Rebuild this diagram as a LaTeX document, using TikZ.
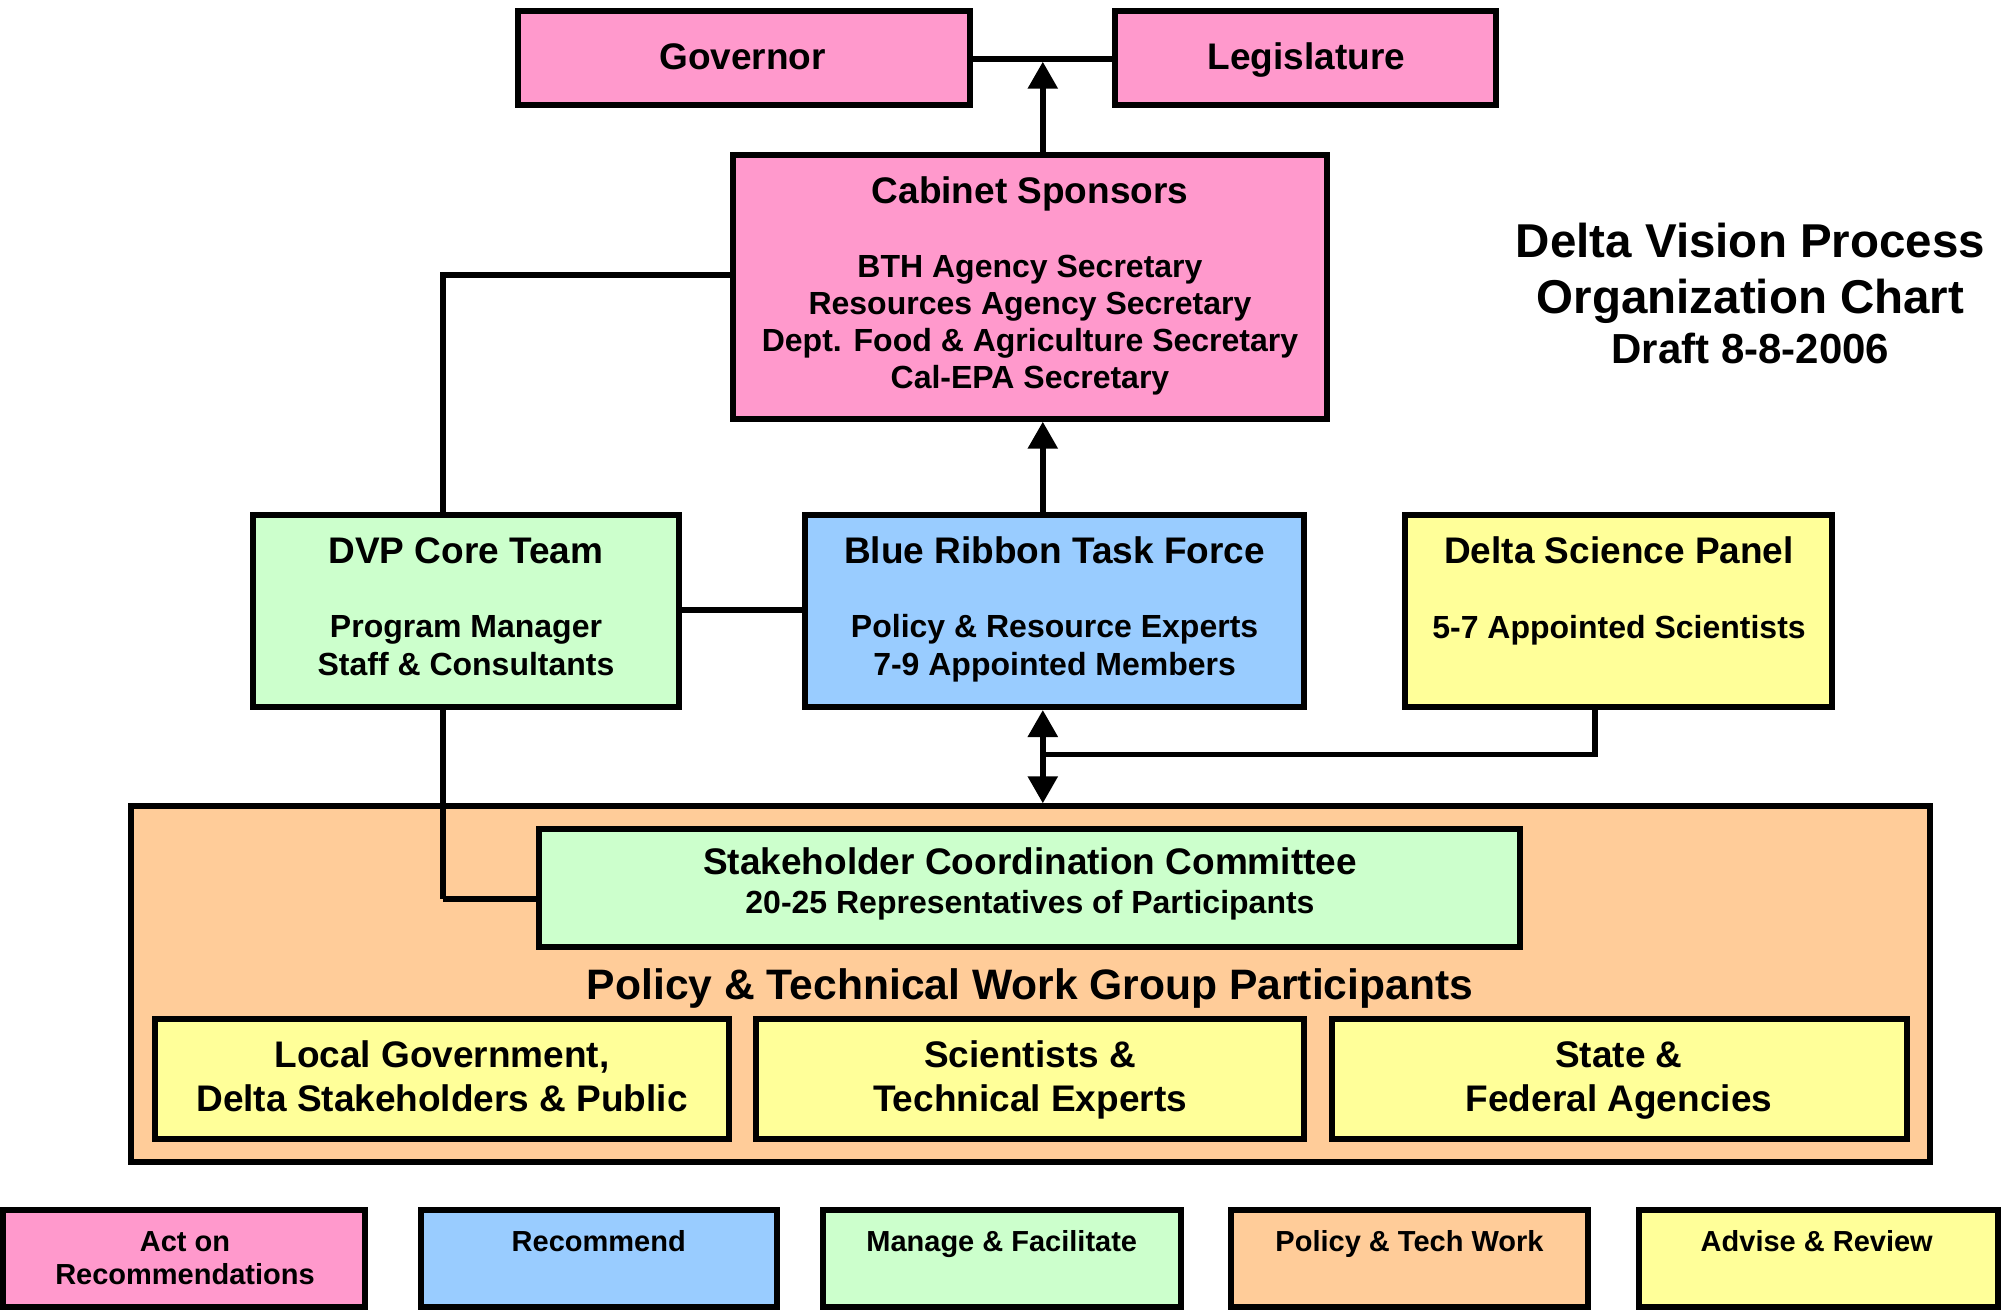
\documentclass[tikz,border=0pt]{standalone}
\usepackage{fontspec}
\setmainfont{Liberation Sans}
\usetikzlibrary{arrows.meta}
\definecolor{cpink}{HTML}{FF99CC}
\definecolor{cblue}{HTML}{99CCFF}
\definecolor{cgreen}{HTML}{CCFFCC}
\definecolor{corange}{HTML}{FFCC99}
\definecolor{cyellow}{HTML}{FFFF99}
\begin{document}
\begin{tikzpicture}[x=1pt,y=-1pt,
  box/.style={draw=black, line width=6pt, rectangle, inner sep=0pt},
  conn/.style={line width=5.7pt},
  tip/.tip={Triangle[length=27pt,width=29pt]},
  arr/.style={conn, -tip},
  darr/.style={conn, tip-tip},
  ttl/.style={anchor=base, inner sep=0pt, font=\fontsize{37}{40}\selectfont\bfseries},
  subt/.style={anchor=base, inner sep=0pt, font=\fontsize{32}{36}\selectfont\bfseries},
  head/.style={anchor=base, inner sep=0pt, font=\fontsize{42.6}{46}\selectfont\bfseries},
  lgd/.style={anchor=base, inner sep=0pt, font=\fontsize{29}{32}\selectfont\bfseries},
  bigttl/.style={anchor=base, inner sep=0pt, font=\fontsize{47.5}{52}\selectfont\bfseries},
]
\useasboundingbox (0,0) rectangle (2002,1310);

% boxes
\node[box, fill=cpink, minimum width=452.8, minimum height=94.1] (gov) at (743.9,58.25) {};
\node[box, fill=cpink, minimum width=381, minimum height=94.1] (leg) at (1305.5,58.25) {};
\node[box, fill=cpink, minimum width=594.1, minimum height=263.7] (cab) at (1030.35,286.85) {};
\node[box, fill=cgreen, minimum width=425.5, minimum height=191.7] (dvp) at (466,611.15) {};
\node[box, fill=cblue, minimum width=499.6, minimum height=191.7] (brtf) at (1054.6,611.15) {};
\node[box, fill=cyellow, minimum width=426.8, minimum height=191.7] (dsp) at (1618.4,611.15) {};
\node[box, fill=corange, minimum width=1799.2, minimum height=355.7] (org) at (1030.1,984.15) {};

% connector coordinates
\coordinate (gl) at (1042.8,58.8);
\coordinate (ax) at (1042.8,61.7);
\coordinate (cy) at (0,275.2);
\coordinate (dvx) at (442.8,0);
\coordinate (dj) at (1042.8,754.5);
\coordinate (dsx) at (1594.7,0);
\coordinate (sj) at (442.8,898.8);

% connectors
\draw[conn] (gov.east |- gl) -- (leg.west |- gl);
\draw[arr] (cab.north -| ax) -- (ax);
\draw[conn] (cab.west |- cy) -| (dvp.north -| dvx);
\draw[arr] (brtf.north -| ax) -- (cab.south -| ax);
\draw[conn] (dvp.east |- 0,610.3) -- (brtf.west |- 0,610.3);
\draw[darr] (brtf.south -| ax) -- (org.north -| ax);
\draw[conn] (dsp.south -| dsx) |- (dj);
\draw[conn] (dvp.south -| dvx) -- (sj);

\node[box, fill=cgreen, minimum width=981.4, minimum height=117.7] (scc) at (1029.5,887.85) {};
\draw[conn] (sj) -- (scc.west |- sj);

\node[box, fill=cyellow, minimum width=574.1, minimum height=120.2] (b1) at (441.55,1078.9) {};
\node[box, fill=cyellow, minimum width=548.1, minimum height=120.2] (b2) at (1030.35,1078.9) {};
\node[box, fill=cyellow, minimum width=574.6, minimum height=120.2] (b3) at (1619.4,1078.9) {};

% legend boxes
\node[box, fill=cpink, minimum width=361.7, minimum height=96.7] (l1) at (183.85,1258.65) {};
\node[box, fill=cblue, minimum width=356.6, minimum height=96.7] (l2) at (598.8,1258.65) {};
\node[box, fill=cgreen, minimum width=357.9, minimum height=96.7] (l3) at (1001.65,1258.65) {};
\node[box, fill=corange, minimum width=356.6, minimum height=96.7] (l4) at (1409.6,1258.65) {};
\node[box, fill=cyellow, minimum width=359.2, minimum height=96.7] (l5) at (1818.2,1258.65) {};

% texts
\node[ttl] (tgov) at (742.5,69.5) {Governor};
\node[ttl] (tleg) at (1306.5,69.5) {Legislature};
\node[ttl] (tcab) at (1030,203.5) {Cabinet Sponsors};
\node[subt] (tcab1) at (1030,277) {BTH Agency Secretary};
\node[subt] (tcab2) at (1030,314) {Resources Agency Secretary};
\node[subt] (tcab3) at (1030,351) {Dept. Food \& Agriculture Secretary};
\node[subt] (tcab4) at (1030,388) {Cal-EPA Secretary};

\node[ttl] (tdvp) at (466,563.5) {DVP Core Team};
\node[subt] (tdvp1) at (466,637) {Program Manager};
\node[subt] (tdvp2) at (466,675.5) {Staff \& Consultants};

\node[ttl] (tbr) at (1054.6,563.5) {Blue Ribbon Task Force};
\node[subt] (tbr1) at (1054.6,637) {Policy \& Resource Experts};
\node[subt] (tbr2) at (1054.6,675.5) {7-9 Appointed Members};

\node[ttl] (tdsp) at (1619,563.5) {Delta Science Panel};
\node[subt] (tdsp1) at (1619,638.5) {5-7 Appointed Scientists};

\node[ttl] (tscc) at (1030,874) {Stakeholder Coordination Committee};
\node[subt] (tscc1) at (1030,913) {20-25 Representatives of Participants};

\node[head] (thead) at (1030,999.7) {Policy \& Technical Work Group Participants};

\node[ttl] (tb1a) at (442,1067) {Local Government,};
\node[ttl] (tb1b) at (442,1111) {Delta Stakeholders \& Public};
\node[ttl] (tb2a) at (1030,1067) {Scientists \&};
\node[ttl] (tb2b) at (1030,1111) {Technical Experts};
\node[ttl] (tb3a) at (1619,1067) {State \&};
\node[ttl] (tb3b) at (1619,1111) {Federal Agencies};

\node[bigttl] (title1) at (1750.5,257) {Delta Vision Process};
\node[bigttl] (title2) at (1750.5,313) {Organization Chart};
\node[anchor=base, inner sep=0pt, font=\fontsize{42}{46}\selectfont\bfseries] (title3) at (1750.5,363.6) {Draft 8-8-2006};

\node[lgd] (tl1a) at (185,1251) {Act on};
\node[lgd] (tl1b) at (185,1284.5) {Recommendations};
\node[lgd] (tl2) at (598.75,1251) {Recommend};
\node[lgd] (tl3) at (1001.75,1251) {Manage \& Facilitate};
\node[lgd] (tl4) at (1409.5,1251) {Policy \& Tech Work};
\node[lgd] (tl5) at (1816.75,1251) {Advise \& Review};
\end{tikzpicture}
\end{document}
